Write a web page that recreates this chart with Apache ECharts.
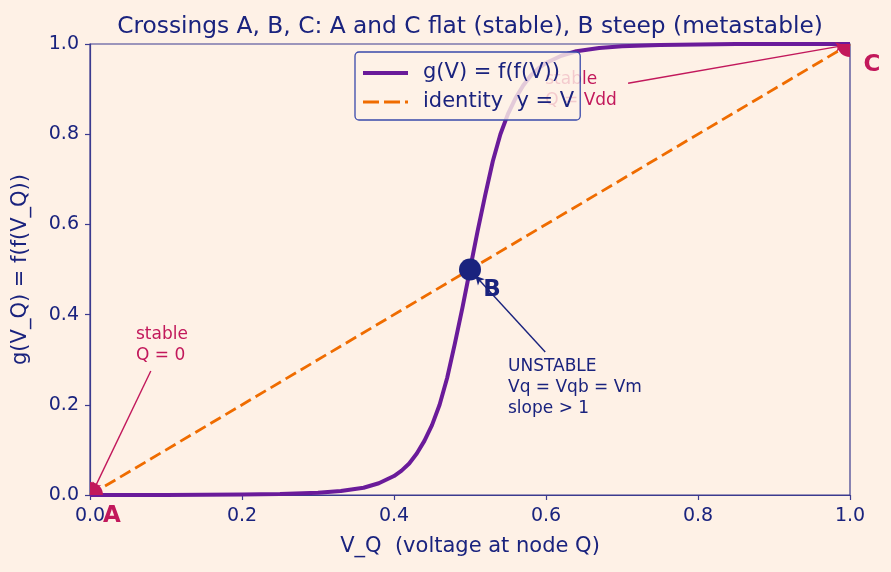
<!DOCTYPE html>
<html><head><meta charset="utf-8">
<script src="https://cdn.jsdelivr.net/npm/echarts@6/dist/echarts.min.js"></script>
<style>html,body{margin:0;padding:0;background:#fef1e6;}#c{width:891px;height:572px;}</style>
</head><body><div id="c"></div>
<script>
// ---- data ----
const vValues = [0, 0.05, 0.1, 0.15, 0.2, 0.25, 0.3, 0.33, 0.36, 0.38,
  0.40, 0.41, 0.42, 0.43, 0.44, 0.45, 0.46, 0.47, 0.48, 0.49, 0.50, 0.51, 0.52, 0.53, 0.54, 0.55, 0.56, 0.57, 0.58, 0.59, 0.60,
  0.62, 0.64, 0.67, 0.70, 0.75, 0.80, 0.85, 0.90, 0.95, 1.0];
const gValues = [0, 0, 0, 0.0005, 0.001, 0.002, 0.005, 0.009, 0.016, 0.026,
  0.042, 0.054, 0.070, 0.092, 0.12, 0.155, 0.20, 0.26, 0.335, 0.415, 0.50, 0.585, 0.665, 0.74, 0.80, 0.845, 0.88, 0.908, 0.93, 0.946, 0.958,
  0.974, 0.984, 0.991, 0.995, 0.998, 0.999, 1.0, 1.0, 1.0, 1.0];
const identityX = [0, 1];
const identityY = [0, 1];
const stablePoints = [[0, 0, 'A'], [1, 1, 'C']];
const unstablePoint = [[0.5, 0.5, 'B']];
const annotations = [
  {text: 'stable\nQ = 0', at: [0.0605, 0.378], from: [0.080, 0.275], to: [0.004, 0.008], color: '#c2185b'},
  {text: 'stable\nQ = Vdd', at: [0.599, 0.9435], from: [0.708, 0.913], to: [0.993, 0.997], color: '#c2185b'},
  {text: 'UNSTABLE\nVq = Vqb = Vm\nslope > 1', at: [0.55, 0.307], from: [0.599, 0.317], to: [0.507, 0.486], color: '#1a237e'}
];
// ---- chart ----
const NAVY = '#1a237e', AXIS = '#3b3b8f', PURPLE = '#6a1b9a', ORANGE = '#ef6c00', CRIMSON = '#c2185b';
const FONT = 'DejaVu Sans';
const chart = echarts.init(document.getElementById('c'));
const axisCommon = {
  type: 'value', min: 0, max: 1, interval: 0.2,
  axisLine: {show: true, lineStyle: {color: AXIS, width: 1.2}},
  axisTick: {show: true, length: 5, lineStyle: {color: AXIS, width: 1.2}},
  splitLine: {show: false},
  axisLabel: {color: NAVY, fontSize: 19, fontFamily: FONT, formatter: v => v.toFixed(1)},
  nameTextStyle: {color: NAVY, fontSize: 21, fontFamily: FONT},
  nameLocation: 'middle'
};
const pointLabels = stablePoints.map(p => ({value: p, label: {color: CRIMSON}}))
  .concat(unstablePoint.map(p => ({value: p, label: {color: NAVY}})));
chart.setOption({
  backgroundColor: '#fef1e6',
  animation: false,
  title: {text: 'Crossings A, B, C: A and C flat (stable), B steep (metastable)', left: 465, top: 10, textAlign: 'center',
    textStyle: {color: NAVY, fontSize: 23.3, fontWeight: 'normal', fontFamily: FONT}},
  grid: {left: 90, right: 41, top: 44, bottom: 77, show: true, borderColor: AXIS, borderWidth: 1.2, backgroundColor: 'transparent'},
  xAxis: Object.assign({}, axisCommon, {name: 'V_Q  (voltage at node Q)', nameGap: 41, axisLabel: Object.assign({}, axisCommon.axisLabel, {margin: 12})}),
  yAxis: Object.assign({}, axisCommon, {name: 'g(V_Q) = f(f(V_Q))', nameGap: 59, axisLabel: Object.assign({}, axisCommon.axisLabel, {margin: 11})}),
  legend: {
    left: 355, top: 52, orient: 'vertical', itemGap: 7,
    padding: [10, 6, 7, 8], borderColor: '#3949ab', borderWidth: 1.3, borderRadius: 4,
    backgroundColor: 'rgba(254,241,230,0.82)',
    textStyle: {color: NAVY, fontSize: 21, lineHeight: 22, fontFamily: FONT, padding: [0, 0, 0, 10]},
    data: [
      {name: 'g(V) = f(f(V))', icon: 'path://M0,0h45v4h-45z', itemStyle: {color: PURPLE}},
      {name: 'identity  y = V', icon: 'path://M0,0h16v3h-16zM21,0h16v3h-16zM42,0h3v3h-3z', itemStyle: {color: ORANGE}}
    ],
    itemWidth: 45, itemHeight: 4, z: 10
  },
  series: [
    {name: 'g(V) = f(f(V))', type: 'line', data: vValues.map((v, i) => [v, gValues[i]]), smooth: false, showSymbol: false, symbol: 'none',
      lineStyle: {color: PURPLE, width: 4, join: 'round'}, itemStyle: {color: PURPLE}, z: 3},
    {name: 'identity  y = V', type: 'line', data: identityX.map((v, i) => [v, identityY[i]]), showSymbol: false, symbol: 'none',
      lineStyle: {color: ORANGE, width: 2.8, type: [12, 5.5]}, itemStyle: {color: ORANGE}, z: 2},
    {type: 'custom', clip: true, data: stablePoints, z: 5,
      renderItem: (params, api) => {
        const p = api.coord([api.value(0), api.value(1)]);
        const cs = params.coordSys;
        return {type: 'circle', shape: {cx: p[0], cy: p[1], r: 13}, style: {fill: CRIMSON},
          clipPath: {type: 'rect', shape: {x: cs.x, y: cs.y, width: cs.width, height: cs.height}}};
      }},
    {type: 'scatter', data: unstablePoint, symbolSize: 22, itemStyle: {color: NAVY, opacity: 1}, z: 5},
    {type: 'scatter', data: pointLabels, symbolSize: 0, silent: true, z: 6, clip: false,
      label: {show: true, position: 'inside', offset: [22, 21], formatter: p => p.value[2], fontSize: 23, fontWeight: 'bold', fontFamily: FONT},
      itemStyle: {color: 'transparent', opacity: 1}},
    {type: 'scatter', data: annotations.map(a => ({value: a.at, label: {formatter: a.text, color: a.color}})), symbolSize: 0, silent: true, z: 4,
      itemStyle: {opacity: 1, color: 'transparent'},
      label: {show: true, position: [0, 0], align: 'left', verticalAlign: 'top', fontSize: 17, lineHeight: 21, fontFamily: FONT}},
    {type: 'line', data: [], z: 4,
      markLine: {silent: true, symbol: ['none', 'arrow'], symbolSize: [7, 9], label: {show: false}, animation: false,
        data: annotations.map(a => [{coord: a.from, lineStyle: {color: a.color, width: 1.4, type: 'solid'}}, {coord: a.to}])}}
  ]
});
</script></body></html>
